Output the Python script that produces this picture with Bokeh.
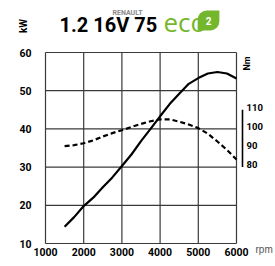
from bokeh.plotting import figure
from bokeh.models import Range1d, Label, ColumnDataSource
from bokeh.core.properties import value
from bokeh.embed import file_html
from bokeh.resources import INLINE

# ---- data ----
rpm = [1500, 1750, 2000, 2250, 2500, 2750, 3000, 3250, 3500, 3750,
       4000, 4250, 4500, 4750, 5000, 5250, 5500, 5750, 6000]
power_kw = [14.4, 16.9, 19.8, 22.0, 24.7, 27.3, 30.3, 33.3, 36.8, 40.0,
            43.3, 46.5, 49.2, 51.8, 53.3, 54.5, 54.9, 54.5, 53.2]
torque_nm = [91.0, 91.5, 92.5, 94.0, 96.0, 97.8, 99.3, 101.0, 102.6, 104.0,
             105.0, 105.0, 103.8, 102.3, 100.4, 97.5, 93.4, 89.0, 84.0]
x_ticks = [1000, 2000, 3000, 4000, 5000, 6000]
kw_ticks = [10, 20, 30, 40, 50, 60]
nm_ticks = [80, 90, 100, 110]
x_labels = [str(t) for t in x_ticks]
kw_labels = [str(t) for t in kw_ticks]
nm_labels = [str(t) for t in nm_ticks]
title_text = "1.2 16V 75"

FONT = "Roboto"
W, H = 275, 266

# ---- layout: the frame covers the whole canvas; the chart box is
#      x 45..236 px and y 52..243 px (from the top-left) ----
BOX_L, BOX_R, BOX_T, BOX_B = 45, 236, 52, 243
X0, X1 = x_ticks[0], x_ticks[-1]
Y0, Y1 = kw_ticks[0], kw_ticks[-1]
xpp = (X1 - X0) / (BOX_R - BOX_L)          # rpm per pixel
ypp = (Y1 - Y0) / (BOX_B - BOX_T)          # kW per pixel
x_range = Range1d(X0 - BOX_L * xpp, X1 + (W - BOX_R) * xpp)
y_range = Range1d(Y0 - (H - BOX_B) * ypp, Y1 + BOX_T * ypp)
# torque scale: 40 Nm at the bottom of the box, 140 Nm at the top
NM0, NM1 = 40, 140
nm_per_kw = (NM1 - NM0) / (Y1 - Y0)
nm_range = Range1d(NM0 + (y_range.start - Y0) * nm_per_kw,
                   NM0 + (y_range.end - Y0) * nm_per_kw)

p = figure(width=W, height=H, output_backend="svg", toolbar_location=None,
           x_range=x_range, y_range=y_range, min_border=0,
           x_axis_type=None, y_axis_type=None)
p.extra_y_ranges = {"nm": nm_range}
p.outline_line_color = None
p.xgrid.visible = False
p.ygrid.visible = False
p.background_fill_color = "white"
p.border_fill_color = "white"

# grid / box
GRID = "#3a3a3a"
p.segment(x0=x_ticks, x1=x_ticks, y0=[Y0] * len(x_ticks), y1=[Y1] * len(x_ticks),
          line_color=GRID, line_width=1.2)
p.segment(x0=[X0] * len(kw_ticks), x1=[X1] * len(kw_ticks), y0=kw_ticks, y1=kw_ticks,
          line_color=GRID, line_width=1.2)

# torque axis line, 6 px right of the box
ax_x = X1 + 6 * xpp
p.segment(x0=[ax_x], x1=[ax_x], y0=[nm_ticks[0]], y1=[nm_ticks[-1]],
          y_range_name="nm", line_color="black", line_width=1.6)

# tick labels
p.text(x=x_ticks, y=[Y0] * len(x_ticks), text=x_labels, text_font=value(FONT),
       text_font_style="bold", text_font_size="10.5px", text_color="black",
       text_align="center", text_baseline="top", y_offset=4)
p.text(x=[X0] * len(kw_ticks), y=kw_ticks, text=kw_labels, text_font=value(FONT),
       text_font_style="bold", text_font_size="10.5px", text_color="black",
       text_align="right", text_baseline="middle", x_offset=-14)
p.text(x=[ax_x] * len(nm_ticks), y=nm_ticks, text=nm_labels, y_range_name="nm",
       text_font=value(FONT), text_font_style="bold", text_font_size="9.5px",
       text_color="black", text_align="left", text_baseline="middle",
       x_offset=4, y_offset=-2.5)

# curves
src = ColumnDataSource(dict(rpm=rpm, kw=power_kw, nm=torque_nm))
p.line("rpm", "kw", source=src, line_color="black", line_width=2.2)
p.line("rpm", "nm", source=src, y_range_name="nm", line_color="black",
       line_width=2.2, line_dash="5 3")

# other texts (screen units from the canvas's bottom-left corner)
def lab(**kw):
    p.add_layout(Label(x_units="screen", y_units="screen", **kw))

lab(x=59, y=H - 24, text=title_text, text_font=FONT, text_font_style="bold",
    text_font_size="20px", text_color="black",
    text_align="left", text_baseline="alphabetic")
lab(x=112, y=H - 12, text="RENAULT", text_font=FONT, text_font_style="bold",
    text_font_size="7px", text_color="#8a8a8a",
    text_align="left", text_baseline="alphabetic")
lab(x=163, y=H - 21.5, text="eco", text_font="Open Sans",
    text_font_size="26px", text_color="#74b72c",
    text_align="left", text_baseline="alphabetic")
lab(x=208, y=H - 20, text="2", text_font=FONT, text_font_style="bold",
    text_font_size="10px", text_color="white",
    text_align="center", text_baseline="middle",
    background_fill_color="#74b72c",
    border_radius=(9, 0, 9, 0), padding=(8, 6))
lab(x=23, y=H - 25.5, text="kW", text_font=FONT, text_font_style="bold",
    text_font_size="10px", text_color="black", angle=1.5708,
    text_align="center", text_baseline="middle")
lab(x=246.5, y=H - 63, text="Nm", text_font=FONT, text_font_style="bold",
    text_font_size="9px", text_color="black", angle=1.5708,
    text_align="center", text_baseline="middle")
lab(x=255, y=H - 248.5, text="rpm", text_font="Liberation Sans",
    text_font_size="10px", text_color="#555555",
    text_align="left", text_baseline="alphabetic")

open("out.html", "w").write(file_html(p, INLINE))
